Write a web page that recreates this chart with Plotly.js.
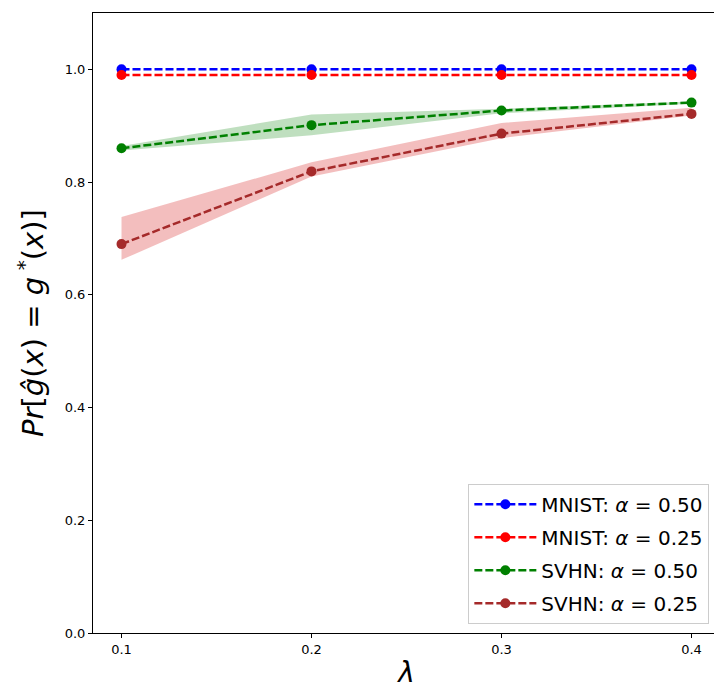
<!DOCTYPE html>
<html>
<head>
<meta charset="utf-8">
<script src="https://cdn.plot.ly/plotly-3.0.1.min.js"></script>
<style>
html, body { margin:0; padding:0; overflow:hidden; background:#fff; }
#plot { width:730px; height:695px; }
</style>
</head>
<body>
<div id="plot"></div>
<script>
const lambdas = [0.1, 0.2, 0.3, 0.4];
const xTicks = [0.1, 0.2, 0.3, 0.4];
const yTicks = [0.0, 0.2, 0.4, 0.6, 0.8, 1.0];

const mnist50 = [1.0, 1.0, 1.0, 1.0];
const mnist25 = [0.99, 0.99, 0.99, 0.99];
const svhn50 = [0.860, 0.901, 0.927, 0.941];
const svhn50Upper = [0.864, 0.920, 0.930, 0.943];
const svhn50Lower = [0.856, 0.883, 0.922, 0.939];
const svhn25 = [0.690, 0.819, 0.886, 0.921];
const svhn25Upper = [0.738, 0.835, 0.905, 0.932];
const svhn25Lower = [0.662, 0.810, 0.878, 0.918];

const names = [
  'MNIST: <i>α</i> = 0.50',
  'MNIST: <i>α</i> = 0.25',
  'SVHN: <i>α</i> = 0.50',
  'SVHN: <i>α</i> = 0.25'
];

function band(upper, lower, color) {
  return {
    x: lambdas.concat(lambdas.slice().reverse()),
    y: upper.concat(lower.slice().reverse()),
    type: 'scatter', mode: 'lines', fill: 'toself',
    fillcolor: color, line: {width: 0, color: 'rgba(0,0,0,0)'},
    hoverinfo: 'skip', showlegend: false
  };
}
function series(y, color, name, g) {
  return {
    x: lambdas, y: y, type: 'scatter', mode: 'lines+markers', name: name,
    legendgroup: g,
    line: {color: color, width: 2.5, dash: '8px,3px'},
    marker: {color: color, size: 10}
  };
}

const data = [
  band(svhn50Upper, svhn50Lower, 'rgba(0,128,0,0.25)'),
  band(svhn25Upper, svhn25Lower, 'rgba(214,39,40,0.3)'),
  series(mnist50, '#0000ff', names[0], 'a'),
  series(mnist25, '#ff0000', names[1], 'b'),
  series(svhn50, '#008000', names[2], 'c'),
  series(svhn25, '#a52a2a', names[3], 'd')
];

const layout = {
  width: 730, height: 695,
  margin: {l: 93, r: 10, t: 13, b: 62},
  paper_bgcolor: '#fff', plot_bgcolor: '#fff',
  font: {family: 'DejaVu Sans', color: '#000', size: 13},
  showlegend: true,
  xaxis: {
    range: [0.085, 0.415], tickvals: xTicks, ticktext: xTicks.map(v => v.toFixed(1)),
    ticks: 'outside', ticklen: 4, tickwidth: 1, tickcolor: '#000',
    showgrid: false, zeroline: false, showline: true, linecolor: '#000', linewidth: 1, mirror: true,
    tickfont: {size: 13},
    title: {text: '<i>λ</i>', font: {size: 28}, standoff: 6}
  },
  yaxis: {
    range: [0, 1.1], tickvals: yTicks, ticktext: yTicks.map(v => v.toFixed(1)),
    ticks: 'outside', ticklen: 4, tickwidth: 1, tickcolor: '#000',
    showgrid: false, zeroline: false, showline: true, linecolor: '#000', linewidth: 1, mirror: true,
    tickfont: {size: 13},
    title: {text: '<i>Pr</i>[<i>ĝ</i>(<i>x</i>) = <i>g</i><sup> *</sup>(<i>x</i>)]', font: {size: 29}, standoff: 12}
  },
  legend: {
    x: 0.983, y: 0.015, xanchor: 'right', yanchor: 'bottom',
    xref: 'paper', yref: 'paper',
    bgcolor: 'rgba(255,255,255,0.8)', bordercolor: '#cccccc', borderwidth: 1,
    font: {size: 20}, tracegroupgap: 4, itemwidth: 62
  }
};

Plotly.newPlot('plot', data, layout, {displayModeBar: false, staticPlot: true});
</script>
</body>
</html>
